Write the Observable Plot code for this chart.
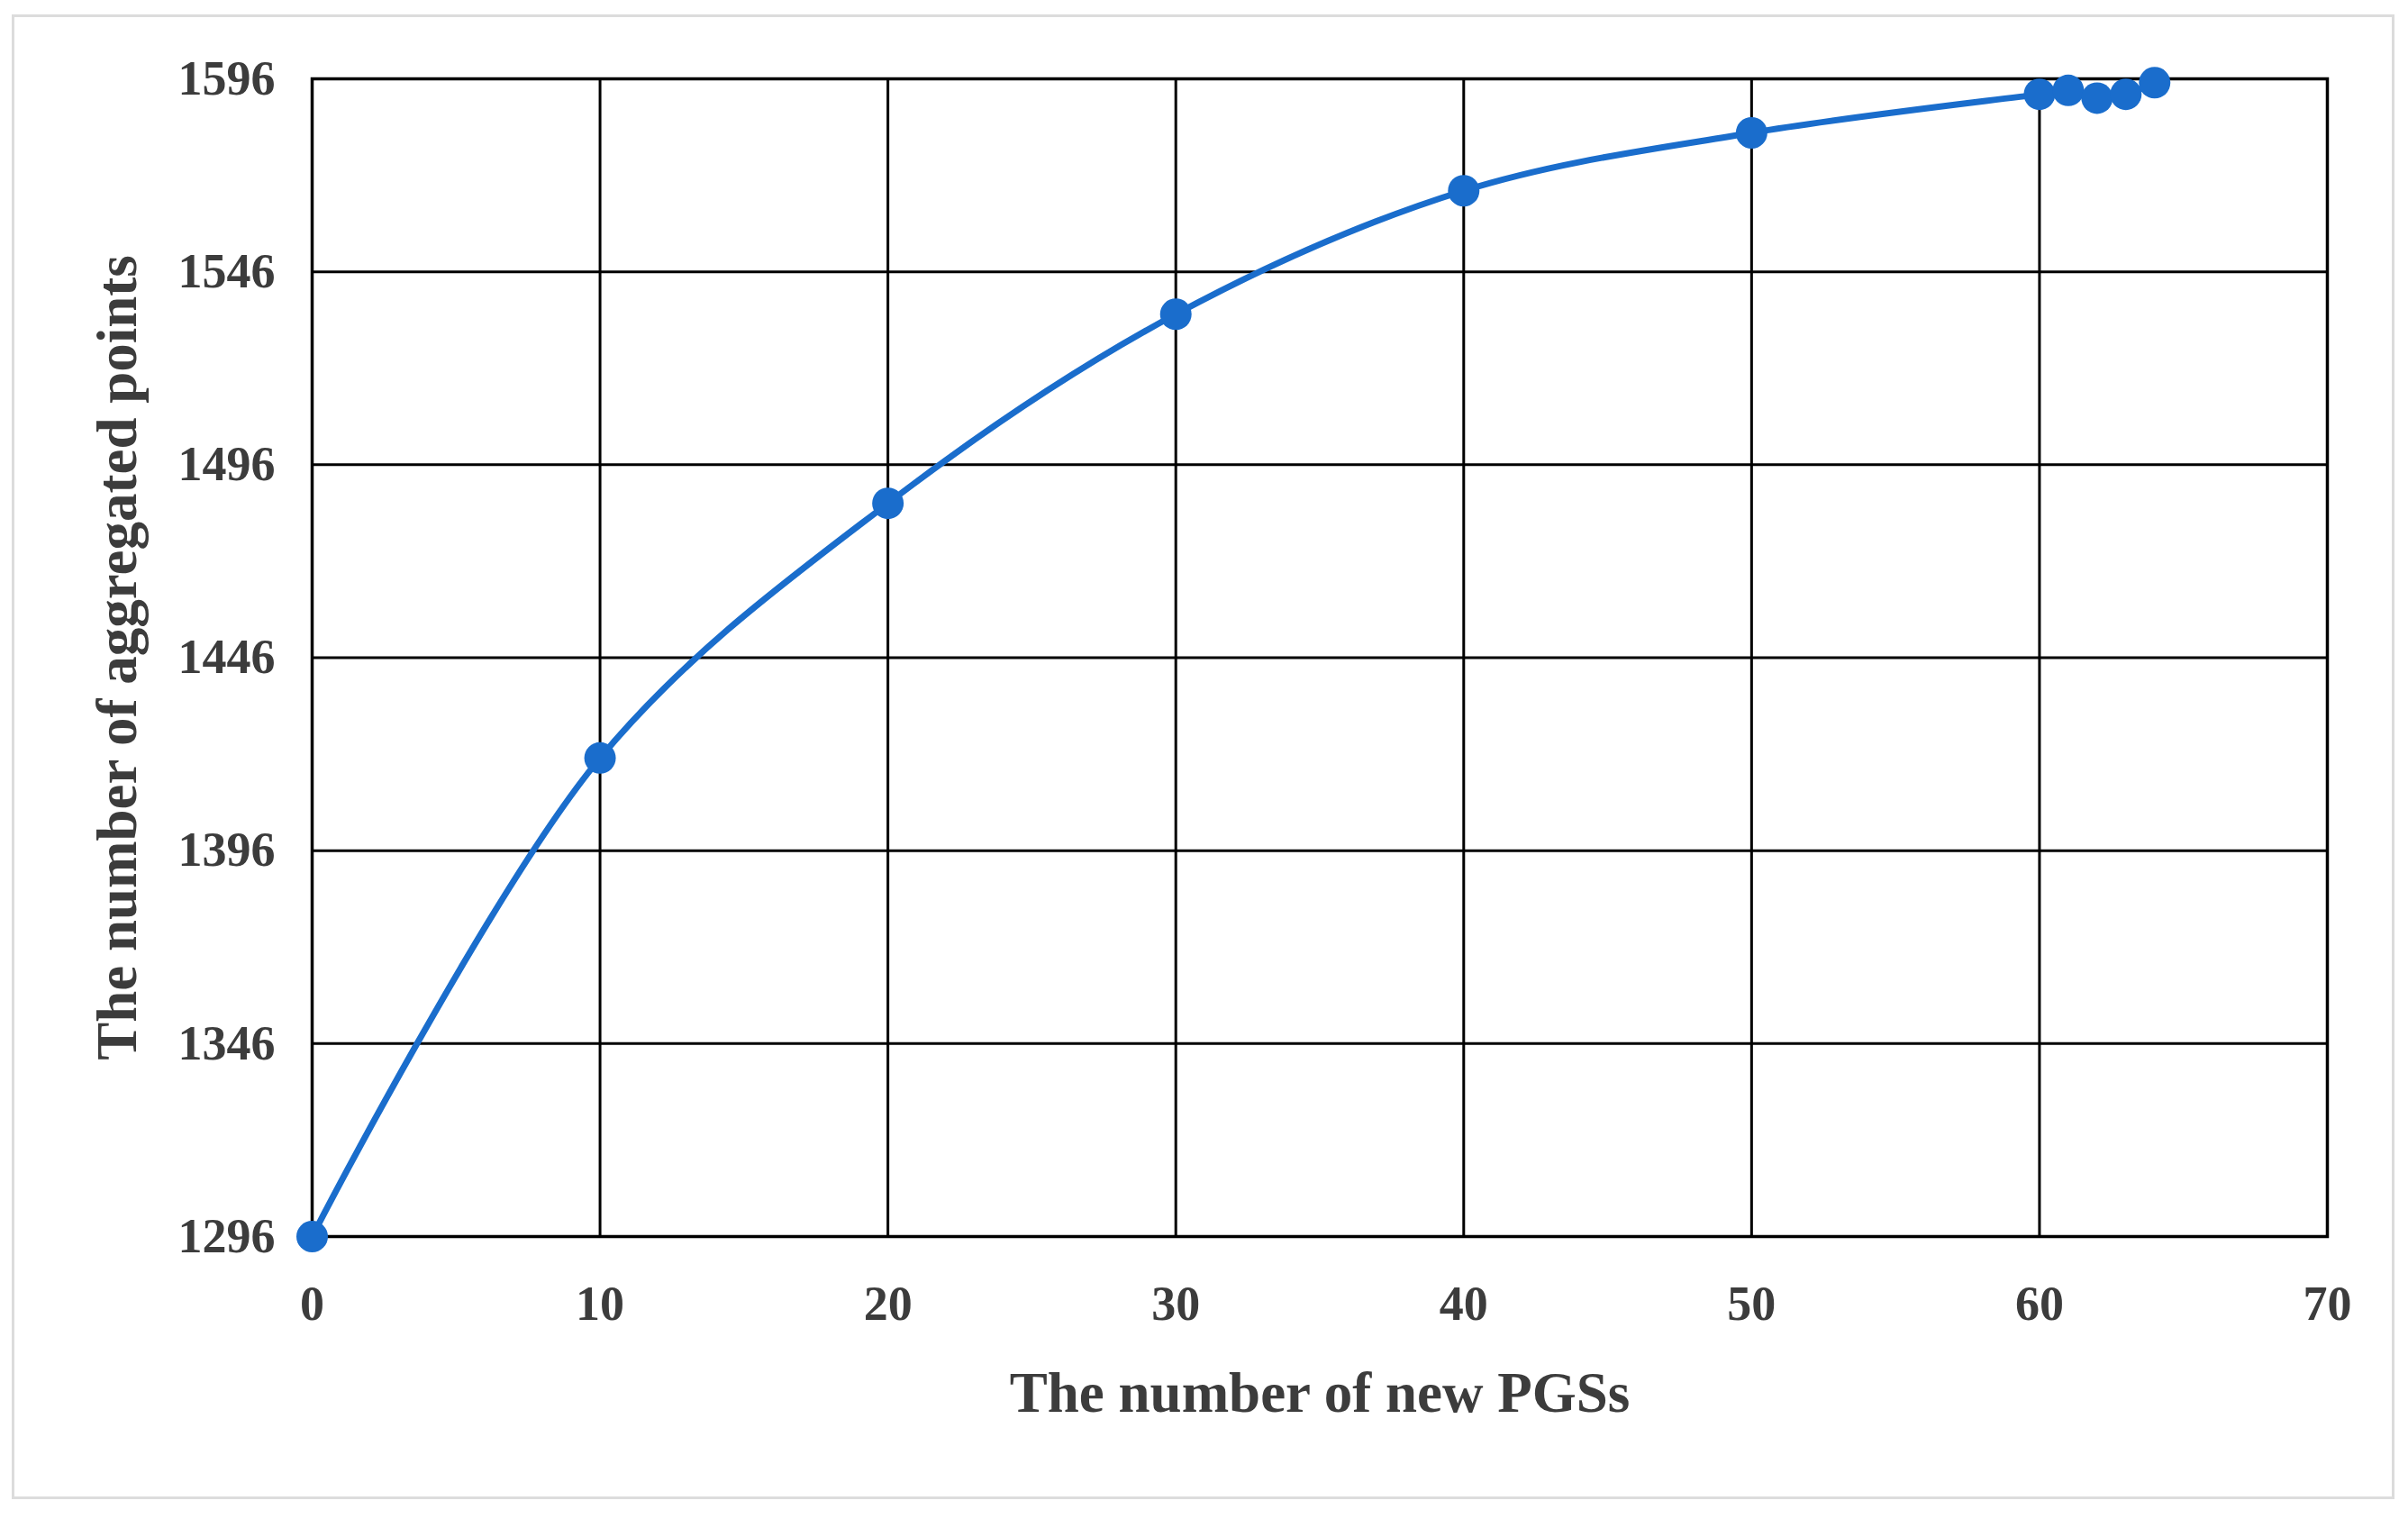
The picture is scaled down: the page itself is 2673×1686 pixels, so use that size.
<!DOCTYPE html>
<html>
<head>
<meta charset="utf-8">
<script src="https://cdn.jsdelivr.net/npm/d3@7"></script>
<script src="https://cdn.jsdelivr.net/npm/@observablehq/plot@0.6"></script>
<style>
  html, body { margin: 0; padding: 0; background: #fff; }
  #wrap { position: relative; width: 2673px; height: 1686px; }
  #border { position: absolute; left: 13px; top: 16px; width: 2645px; height: 1648px;
            box-sizing: border-box; border: 3px solid #dcdcdc; pointer-events: none; }
</style>
</head>
<body>
<div id="wrap"><div id="border"></div></div>
<script>
const newPGSs = [0, 10, 20, 30, 40, 50, 60, 61, 62, 63, 64];
const aggregatedPoints = [1296, 1420, 1486, 1535, 1567, 1582, 1592, 1593, 1591, 1592, 1595];
const xTicks = [0, 10, 20, 30, 40, 50, 60, 70];
const yTicks = [1296, 1346, 1396, 1446, 1496, 1546, 1596];
const xLabel = "The number of new PGSs";
const yLabel = "The number of aggregated points";

const data = newPGSs.map((x, i) => ({x, y: aggregatedPoints[i]}));
const blue = "#1a6dcc";
const textColor = "#3c3c3c";

const chart = Plot.plot({
  width: 2673,
  height: 1686,
  marginLeft: 346,
  marginRight: 90,
  marginTop: 87,
  marginBottom: 314,
  x: {domain: [0, 70]},
  y: {domain: [1296, 1596]},
  style: {fontFamily: "'Liberation Serif', 'Times New Roman', serif", fontWeight: "bold", background: "transparent", color: textColor},
  marks: [
    Plot.gridX(xTicks, {stroke: "#000", strokeOpacity: 1, strokeWidth: 3}),
    Plot.gridY(yTicks, {stroke: "#000", strokeOpacity: 1, strokeWidth: 3}),
    Plot.frame({stroke: "#000", strokeWidth: 3.5}),
    Plot.axisX(xTicks, {tickSize: 0, tickPadding: 54, fontSize: 54, label: null, fill: textColor, tickFormat: d => String(d)}),
    Plot.axisY(yTicks, {tickSize: 0, tickPadding: 41, fontSize: 54, label: null, fill: textColor, tickFormat: d => String(d)}),
    Plot.text([xLabel], {frameAnchor: "bottom", dy: 174, lineAnchor: "middle", textAnchor: "middle", fontSize: 63, fill: textColor, fontWeight: "bold"}),
    Plot.text([yLabel], {frameAnchor: "left", dx: -216, rotate: -90, lineAnchor: "middle", textAnchor: "middle", fontSize: 63, fill: textColor, fontWeight: "bold"}),
    Plot.line(data, {x: "x", y: "y", curve: "catmull-rom", stroke: blue, strokeWidth: 7}),
    Plot.dot(data, {x: "x", y: "y", r: 17.5, fill: blue, stroke: "none"})
  ]
});
document.getElementById("wrap").prepend(chart);
</script>
</body>
</html>
